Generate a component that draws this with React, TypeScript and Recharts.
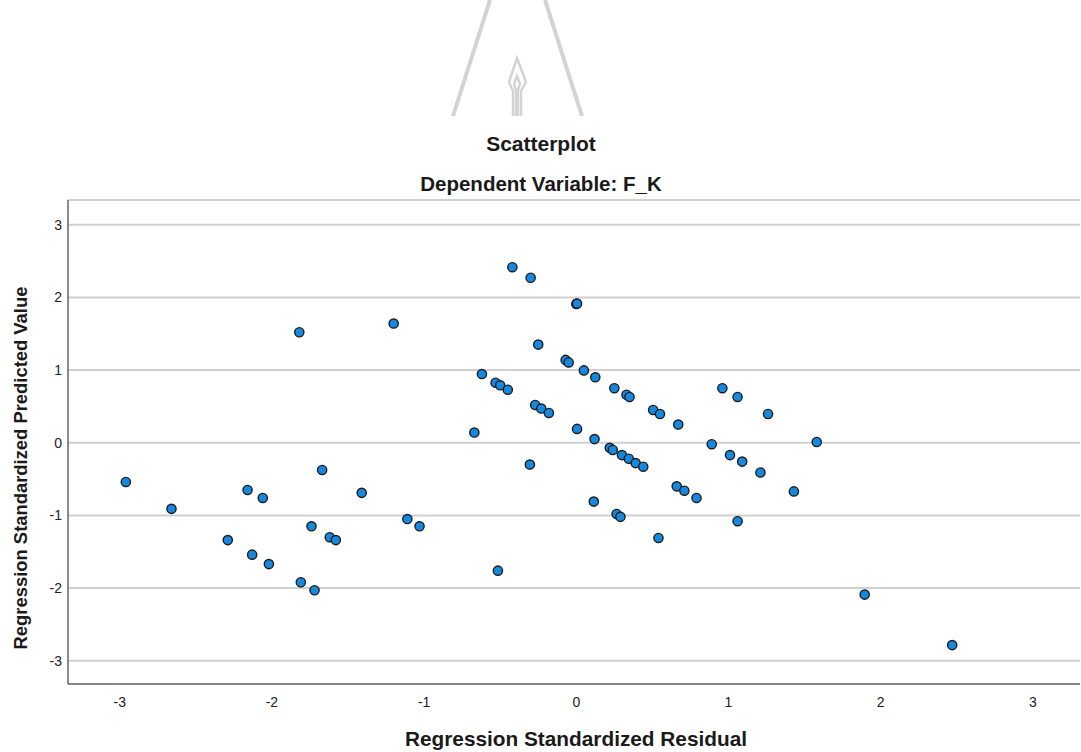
import React from 'react';
import { ScatterChart, Scatter, XAxis, YAxis, CartesianGrid } from 'recharts';

const residuals = [
  -2.96, -2.66, -2.29, -2.16, -2.13, -2.06, -2.02, -1.81, -1.72, -1.74,
  -1.67, -1.62, -1.58, -1.41, -1.82, -1.2, -1.11, -1.03, -0.67, -0.62,
  -0.53, -0.5, -0.45, -0.515, -0.42, -0.3, -0.305, -0.27, -0.23, -0.18,
  -0.25, -0.07, -0.05, 0.0, 0.005, 0.005, 0.05, 0.125, 0.12, 0.115,
  0.22, 0.24, 0.25, 0.265, 0.29, 0.3, 0.33, 0.35, 0.345, 0.39,
  0.44, 0.505, 0.54, 0.55, 0.66, 0.67, 0.71, 0.79, 0.89, 0.96,
  1.01, 1.06, 1.06, 1.09, 1.21, 1.26, 1.43, 1.58, 1.895, 2.47,
];

const predicted = [
  -0.54, -0.91, -1.34, -0.65, -1.54, -0.76, -1.67, -1.92, -2.03, -1.15,
  -0.375, -1.3, -1.34, -0.69, 1.52, 1.64, -1.05, -1.15, 0.14, 0.945,
  0.825, 0.79, 0.73, -1.76, 2.415, 2.27, -0.3, 0.52, 0.47, 0.41,
  1.35, 1.14, 1.105, 1.91, 1.915, 0.19, 0.995, 0.9, 0.05, -0.81,
  -0.07, -0.1, 0.75, -0.98, -1.02, -0.17, 0.66, 0.63, -0.22, -0.28,
  -0.33, 0.45, -1.31, 0.395, -0.6, 0.25, -0.66, -0.76, -0.02, 0.75,
  -0.17, 0.63, -1.08, -0.26, -0.41, 0.395, -0.67, 0.01, -2.09, -2.785,
];

const xTicks = [-3, -2, -1, 0, 1, 2, 3];
const yTicks = [-3, -2, -1, 0, 1, 2, 3];

const titleText = 'Scatterplot';
const subtitleText = 'Dependent Variable: F_K';
const xTitle = 'Regression Standardized Residual';
const yTitle = 'Regression Standardized Predicted Value';

const points = residuals.map((r, i) => ({ x: r, y: predicted[i] }));

const FONT = '"Liberation Sans", Arial, Helvetica, sans-serif';

const Dot = (props: any) => {
  const { cx, cy } = props;
  if (cx == null || cy == null) return null;
  return <circle cx={cx} cy={cy} r={4.6} fill="#1589E0" stroke="#1b1b1b" strokeWidth={1.4} />;
};

export default function App() {
  return (
    <div style={{ position: 'absolute', left: 0, top: 0, width: 1081, height: 752, background: '#fff', fontFamily: FONT }}>
      <svg width={1081} height={752} style={{ position: 'absolute', left: 0, top: 0 }}>
        <g stroke="#d3d3d3" strokeWidth={4} fill="none" strokeLinejoin="round">
          <path d="M490 0 L453 116" />
          <path d="M545 0 L582 116" />
        </g>
        <g stroke="#d3d3d3" strokeWidth={2.5} fill="none" strokeLinejoin="miter">
          <path d="M513 116 L513 91 L509 82 L517 58 L526 82 L521 91 L521 116" />
          <path d="M516 116 L516 90 L514 84 L517 76 L520 84 L518 90 L518 116" />
        </g>
        <text x={541} y={151} textAnchor="middle" fontFamily={FONT} fontWeight="bold" fontSize={21} fill="#1a1a1a">
          {titleText}
        </text>
        <text x={541} y={191} textAnchor="middle" fontFamily={FONT} fontWeight="bold" fontSize={20.5} fill="#1a1a1a">
          {subtitleText}
        </text>
        <text
          x={27}
          y={468}
          textAnchor="middle"
          fontFamily={FONT}
          fontWeight="bold"
          fontSize={18.4}
          fill="#1a1a1a"
          transform="rotate(-90, 27, 468)"
        >
          {yTitle}
        </text>
        <text x={576} y={746} textAnchor="middle" fontFamily={FONT} fontWeight="bold" fontSize={20.8} fill="#1a1a1a">
          {xTitle}
        </text>
      </svg>
      <div style={{ position: 'absolute', left: 0, top: 0 }}>
        <ScatterChart
          width={1081}
          height={752}
          margin={{ top: 200, right: 1, bottom: 0, left: 0 }}
          style={{ fontFamily: FONT }}
        >
          <CartesianGrid vertical={false} stroke="#d0d0d0" strokeWidth={2} />
          <XAxis
            type="number"
            dataKey="x"
            domain={[-3.34, 3.31]}
            ticks={xTicks}
            allowDataOverflow
            height={68}
            tickLine={false}
            tickSize={6}
            tickMargin={7}
            axisLine={{ stroke: '#6e6e6e', strokeWidth: 1.6 }}
            tick={{ fontSize: 14, fill: '#222', fontFamily: FONT }}
          />
          <YAxis
            type="number"
            dataKey="y"
            domain={[-3.32, 3.34]}
            ticks={yTicks}
            allowDataOverflow
            width={68}
            tickLine={false}
            tickSize={6}
            tickMargin={0}
            axisLine={{ stroke: '#6e6e6e', strokeWidth: 1.6 }}
            tick={{ fontSize: 14, fill: '#222', fontFamily: FONT }}
          />
          <Scatter data={points} shape={Dot} isAnimationActive={false} />
        </ScatterChart>
      </div>
    </div>
  );
}
